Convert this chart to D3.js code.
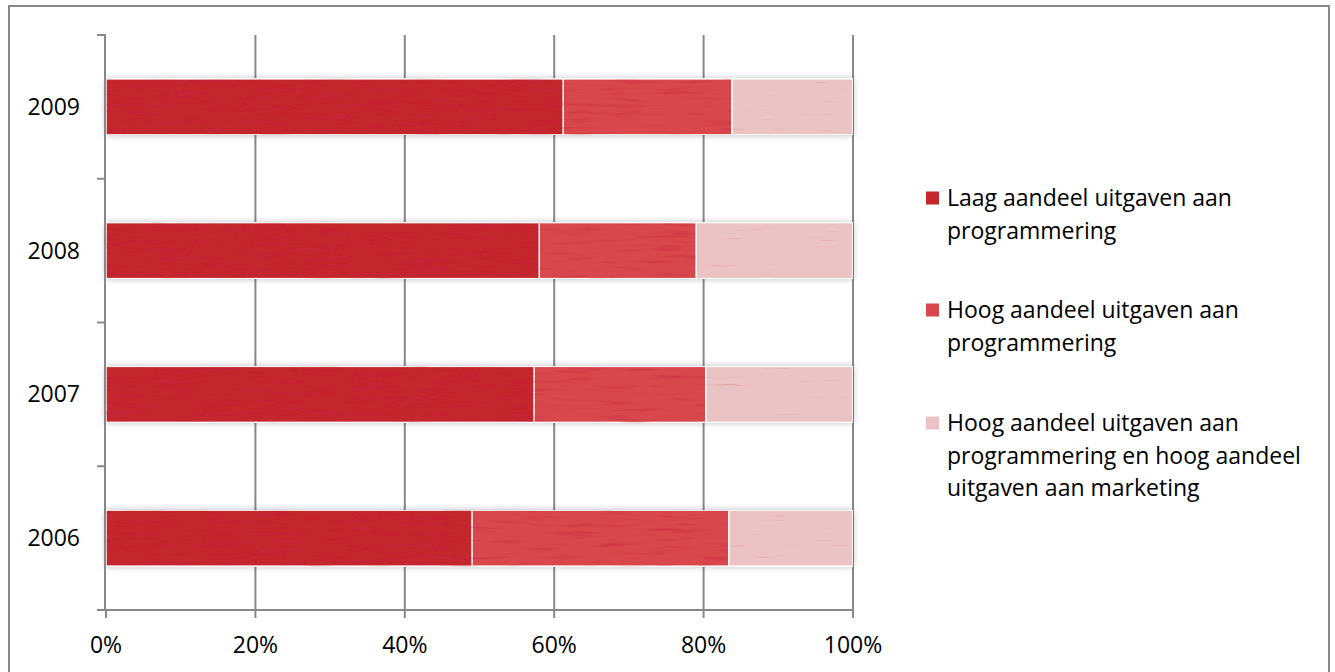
<!DOCTYPE html>
<html><head><meta charset="utf-8">
<script src="https://cdn.jsdelivr.net/npm/d3@7"></script>
<style>html,body{margin:0;padding:0;background:#fff}svg{display:block}</style>
</head><body><svg id="c" width="1335" height="672"></svg>
<script>
const years = ["2009","2008","2007","2006"];
const seriesNames = [
  ["Laag aandeel uitgaven aan","programmering"],
  ["Hoog aandeel uitgaven aan","programmering"],
  ["Hoog aandeel uitgaven aan","programmering en hoog aandeel","uitgaven aan marketing"]
];
const laag = [61.2, 58.0, 57.3, 49.0];
const hoog = [22.6, 21.0, 23.0, 34.4];
const hoogMarketing = [16.2, 21.0, 19.7, 16.6];
const xTicks = [0,20,40,60,80,100];
const colors = ["#c4272d","#d8474b","#ecc3c4"];

const svg = d3.select("#c");
const font = "'Open Sans', sans-serif";
const fs = 23;
const defs = svg.append("defs");
const sh = defs.append("filter").attr("id","sh").attr("x","-5%").attr("y","-40%").attr("width","110%").attr("height","180%");
sh.append("feDropShadow").attr("dx",0).attr("dy",0).attr("stdDeviation",3.5).attr("flood-color","#000").attr("flood-opacity",0.28);
function texFilter(id, op){
  const tex = defs.append("filter").attr("id",id).attr("x","0").attr("y","0").attr("width","100%").attr("height","100%");
  tex.append("feTurbulence").attr("type","fractalNoise").attr("baseFrequency","0.02 0.25").attr("numOctaves",3).attr("seed",4).attr("result","n");
  tex.append("feColorMatrix").attr("in","n").attr("type","matrix")
    .attr("values",`0 0 0 0 0.55  0 0 0 0 0.02  0 0 0 0 0.05  0 0 0 -1.6 ${op}`).attr("result","m");
  tex.append("feComposite").attr("in","m").attr("in2","SourceGraphic").attr("operator","in").attr("result","mm");
  tex.append("feMerge").selectAll("feMergeNode").data(["SourceGraphic","mm"]).join("feMergeNode").attr("in",d=>d);
}
texFilter("tex0",0.75); texFilter("tex1",0.7); texFilter("tex2",0.45);

// outer border
svg.append("rect").attr("x",9).attr("y",6).attr("width",1320).attr("height",680)
  .attr("fill","none").attr("stroke","#888").attr("stroke-width",2);

const x = d3.scaleLinear().domain([0,100]).range([106,853]);
const y = d3.scaleBand().domain(years).range([35,610]).paddingInner(0.61).paddingOuter(0.305);

// gridlines
svg.append("g").selectAll("line").data(xTicks.slice(1)).join("line")
  .attr("x1",d=>x(d)).attr("x2",d=>x(d)).attr("y1",35).attr("y2",610)
  .attr("stroke","#888").attr("stroke-width",2);

// bars
const rows = years.map((yr,i)=>{
  const v=[laag[i],hoog[i],hoogMarketing[i]]; let c=0;
  return v.map((d,k)=>{const s=c; c+=d; return {yr,k,x0:s,x1:c};});
});
const bg = svg.append("g");
rows.forEach(r=>{
  bg.append("rect").attr("x",x(0)).attr("y",y(r[0].yr)).attr("width",x(100)-x(0)).attr("height",y.bandwidth())
    .attr("fill","#fff").attr("filter","url(#sh)");
  bg.selectAll(null).data(r).join("rect")
    .attr("x",d=>x(d.x0)).attr("y",d=>y(d.yr)).attr("width",d=>x(d.x1)-x(d.x0)).attr("height",y.bandwidth())
    .attr("fill",d=>colors[d.k]).attr("stroke","#fff").attr("stroke-width",1.5).attr("filter",d=>`url(#tex${d.k})`);
});

// axes
const ax = svg.append("g").attr("stroke","#888").attr("stroke-width",2);
ax.append("line").attr("x1",105).attr("x2",105).attr("y1",34).attr("y2",611);
ax.append("line").attr("x1",97).attr("x2",853).attr("y1",610).attr("y2",610);
const yt = [35].concat(years.map(d=>y(d)+y.bandwidth()+ y.step()*0.305));
ax.selectAll(null).data(yt).join("line").attr("x1",97).attr("x2",105).attr("y1",d=>d).attr("y2",d=>d);
ax.selectAll(null).data(xTicks).join("line").attr("x1",d=>x(d)).attr("x2",d=>x(d)).attr("y1",610).attr("y2",618);

// labels
svg.append("g").selectAll("text").data(years).join("text")
  .attr("x",80).attr("y",d=>y(d)+y.bandwidth()/2).attr("dy","0.35em").attr("text-anchor","end")
  .attr("font-family",font).attr("font-size",fs).attr("fill","#000").text(d=>d);
svg.append("g").selectAll("text").data(xTicks).join("text")
  .attr("x",d=>x(d)).attr("y",645).attr("dy","0.35em").attr("text-anchor","middle")
  .attr("font-family",font).attr("font-size",fs).attr("fill","#000").text(d=>d+"%");

// legend
const legY = [198,310,423];
const lg = svg.append("g");
seriesNames.forEach((lines,i)=>{
  lg.append("rect").attr("x",926).attr("y",legY[i]-6.5).attr("width",13).attr("height",13).attr("fill",colors[i]);
  lg.append("g").selectAll("text").data(lines).join("text")
    .attr("x",947).attr("y",(d,j)=>legY[i]+j*32.5).attr("dy","0.35em")
    .attr("font-family",font).attr("font-size",fs).attr("fill","#000").text(d=>d);
});
</script></body></html>
